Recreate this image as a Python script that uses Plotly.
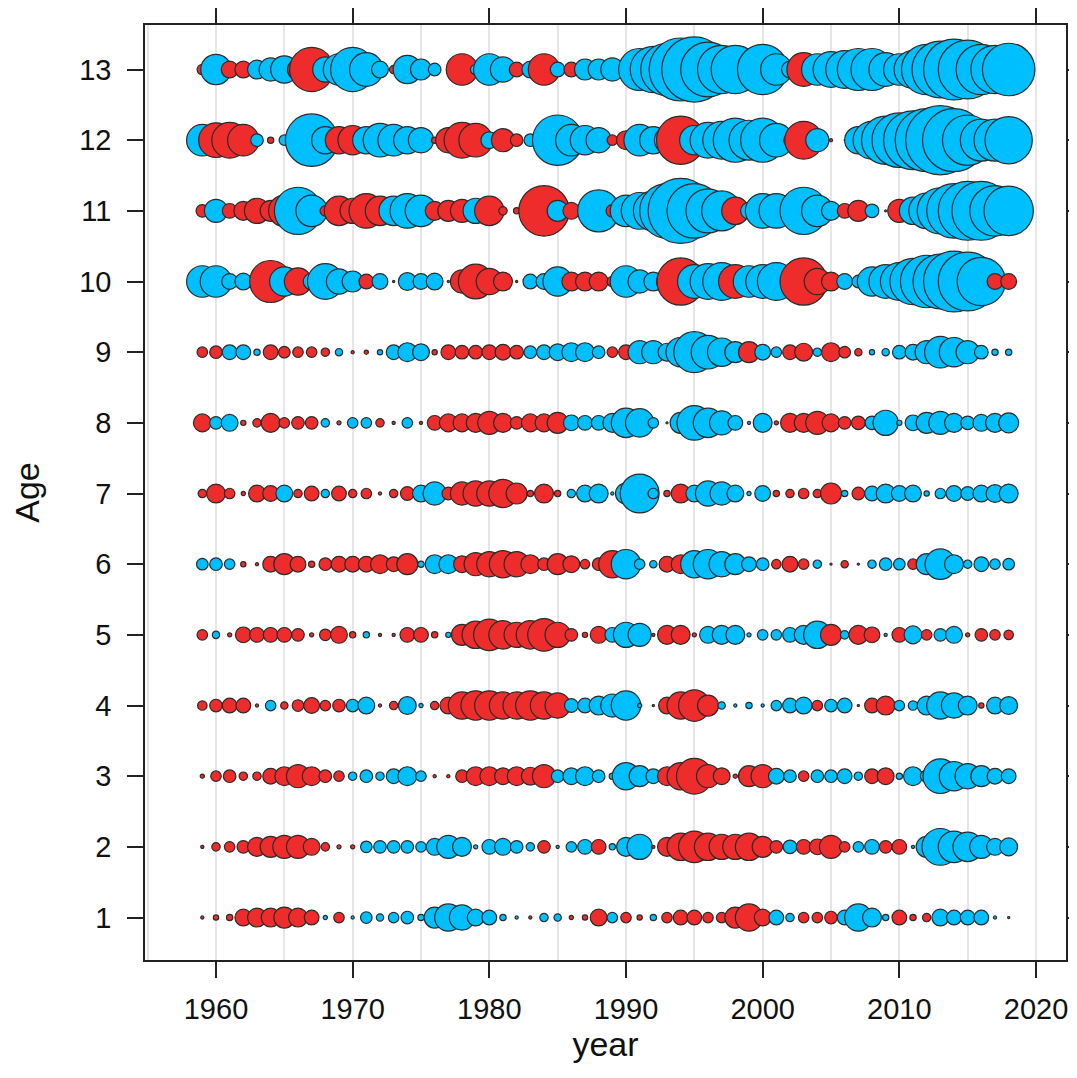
import plotly.graph_objects as go

years = list(range(1959, 2019))
ages = list(range(1, 14))

age1 = [-0.15, -0.25, -0.3, -0.8, -0.9, -0.9, -1.0, -0.9, -0.7, 0.2,
        -0.5, 0.15, 0.55, 0.35, 0.5, 0.6, 0.3, 1.0, 1.3, 1.2,
        0.8, 0.7, 0.3, 0.15, -0.15, 0.4, 0.35, -0.2, -0.25, -0.8,
        0.5, -0.5, -0.25, 0.3, -0.5, -0.7, -0.7, -0.5, -0.5, -1.0,
        -1.3, -0.8, 0.7, 0.4, -0.5, -0.5, -0.6, 0.7, 1.3, 0.9,
        0.3, -0.7, -0.3, -0.4, 0.8, 0.7, 0.7, 0.7, 0.15, 0.1]
age2 = [-0.15, -0.4, -0.5, -0.6, -0.9, -1.0, -1.1, -1.1, -0.8, -0.4,
        -0.2, -0.2, 0.55, 0.6, 0.6, 0.6, 0.5, 0.8, 1.1, 0.9,
        0.2, 0.7, 0.8, 0.6, 0.4, -0.6, 0.15, 0.5, 0.7, -0.7,
        0.3, 0.9, 1.2, -0.15, -0.9, -1.3, -1.5, -1.3, -1.2, -1.2,
        -1.3, -1.0, -0.6, 0.65, -0.7, -0.75, -1.1, -0.5, 0.5, 0.7,
        -0.6, -0.7, 0.15, 1.0, 1.75, 1.5, 1.4, 1.1, 0.8, 0.85]
age3 = [-0.2, -0.5, -0.6, -0.4, -0.4, -0.75, -0.9, -1.1, -0.9, -0.6,
        -0.5, 0.4, 0.6, 0.4, 0.7, 0.9, 0.5, -0.15, -0.15, -0.6,
        -0.9, -0.9, -0.8, -0.9, -0.85, -1.1, 0.6, 0.8, 0.9, 0.6,
        0.3, 1.3, 1.0, 0.7, -0.9, -1.3, -1.7, -1.1, -0.8, -0.2,
        -1.0, -1.1, 0.75, 0.6, -0.5, 0.6, 0.6, 0.7, 0.4, -0.7,
        -0.8, 0.3, 0.9, 0.6, 1.65, 1.4, 1.2, 1.0, 0.75, 0.7]
age4 = [-0.45, -0.6, -0.7, -0.7, -0.15, 0.5, -0.35, -0.55, -0.75, -0.5,
        -0.6, 0.6, 0.8, -0.15, -0.4, 0.85, 0.2, -0.4, -0.8, -1.3,
        -1.4, -1.4, -1.3, -1.3, -1.4, -1.3, -1.2, 0.65, 0.7, 0.9,
        1.1, 1.4, 0.2, -0.1, -0.8, -1.3, -1.5, -1.0, 0.35, 0.15,
        0.3, 0.15, 0.5, 0.7, 0.8, -0.5, 0.6, 0.7, -0.1, -0.7,
        -0.9, 0.5, 0.45, 0.9, 1.3, 1.2, 0.9, -0.25, 0.8, 0.85]
age5 = [-0.5, 0.35, -0.2, -0.75, -0.7, -0.7, -0.7, -0.6, -0.2, -0.55,
        -0.8, -0.3, 0.3, -0.15, -0.15, -0.7, -0.7, -0.3, 0.25, -1.0,
        -1.3, -1.5, -1.35, -1.2, -1.35, -1.55, -1.2, -0.6, -0.25, -0.8,
        0.7, 1.2, 1.1, -0.15, -0.9, -0.9, -0.2, 0.8, 0.9, 0.9,
        0.2, 0.5, 0.5, 0.7, 0.9, 1.3, -1.0, 0.4, -0.9, -0.75,
        0.15, -0.7, 0.85, -0.5, 0.6, 0.8, -0.2, -0.6, -0.5, -0.45]
age6 = [0.55, 0.6, 0.5, -0.25, -0.15, -0.75, -1.0, -0.75, -0.3, -0.6,
        -0.75, -0.75, -0.75, -0.9, -0.7, -1.0, 0.3, 0.9, 0.9, -0.8,
        -1.1, -1.2, -1.3, -1.2, -0.9, -0.6, -1.0, -0.8, -0.45, -0.6,
        -1.3, 1.4, 0.5, 0.35, -0.75, -0.9, 1.3, 1.4, 1.2, 1.0,
        0.7, 0.6, -0.45, -0.75, -0.5, 0.4, -0.1, -0.35, -0.1, 0.4,
        0.6, 0.55, -0.5, 1.0, 1.45, 0.9, 0.4, 0.7, 0.5, 0.55]
age7 = [-0.4, -0.9, -0.5, -0.2, -0.8, -0.75, 0.8, -0.4, -0.7, 0.4,
        -0.7, -0.4, -0.5, -0.15, -0.4, -0.65, 0.8, 1.1, -0.6, -1.1,
        -1.2, -1.2, -1.35, -1.0, -0.3, -0.9, -0.3, 0.4, 0.8, 0.9,
        0.15, 1.0, 1.85, 0.5, -0.3, -0.9, 0.8, 1.2, 1.1, 0.8,
        0.2, 0.75, -0.3, -0.4, -0.5, -0.4, -1.0, 0.3, -0.6, 0.7,
        0.9, 0.75, 0.8, 0.25, 0.5, 0.75, 0.65, 0.8, 0.85, 0.9]
age8 = [-0.85, 0.6, 0.8, -0.25, -0.4, -0.9, -0.5, -0.6, -0.6, 0.4,
        -0.2, 0.5, 0.5, -0.4, -0.15, 0.5, -0.15, -0.7, -0.85, -0.85,
        -0.9, -1.1, -0.9, -0.6, -0.85, -0.85, -1.0, 0.75, 0.7, 0.7,
        0.9, 1.4, 1.35, 0.5, 0.1, 1.0, 1.65, 1.4, 1.15, 0.7,
        0.15, 0.9, -0.2, -0.9, -0.9, -1.1, -0.85, -0.6, -0.65, 0.65,
        1.2, 0.25, 0.75, 1.0, 1.1, 0.9, 0.65, 0.8, 0.9, 0.95]
age9 = [-0.5, -0.6, 0.7, 0.7, 0.3, -0.7, -0.55, -0.5, -0.5, -0.4,
        0.35, -0.15, -0.2, 0.25, 0.7, 0.9, 0.8, -0.25, -0.7, -0.65,
        -0.65, -0.7, -0.75, -0.65, 0.6, 0.7, 0.8, 0.9, 0.9, 0.6,
        -0.5, -0.7, 1.1, 1.1, 0.85, 1.4, 1.95, 1.6, 1.35, 1.0,
        -1.0, 0.75, 0.5, -0.7, -0.85, 0.4, -0.9, -0.55, -0.35, 0.25,
        0.35, 0.65, 0.75, 1.1, 1.5, 1.4, 1.1, 0.65, 0.3, 0.3]
age10 = [1.5, 1.5, 0.75, 0.8, 0.6, -2.0, 1.4, -1.3, 0.8, 1.7,
         1.2, 1.0, -0.7, 0.75, -0.1, 0.85, 0.75, 0.8, 0.1, -1.1,
         -1.65, -1.25, -0.9, -0.1, 0.7, 0.75, 1.4, -0.9, -0.9, -0.9,
         -0.5, 1.5, 1.1, 0.9, 1.0, -2.25, 1.6, 1.7, 1.8, -1.6,
         1.5, 1.6, 1.8, 0.6, -2.25, -1.25, -0.9, 0.75, 0.6, 1.4,
         1.6, 1.8, 2.2, 2.5, 2.6, 2.9, 2.8, 2.3, -0.75, -0.75]
age11 = [-0.6, 1.1, -0.7, -0.9, -1.2, -1.0, -1.5, 2.25, 1.5, -0.5,
         -1.4, -1.2, -1.65, -1.4, 1.4, 1.65, 1.5, -0.9, -1.0, -1.1,
         1.2, -1.4, -0.4, -0.3, -0.3, -2.4, 1.0, -0.8, -0.6, 2.0,
         -0.6, 1.5, 1.75, 1.9, 2.6, 3.1, 2.6, 2.1, 1.9, -1.3,
         0.8, 1.65, 1.65, 0.9, 2.25, 1.5, 0.9, -0.7, -1.0, 0.65,
         0.1, -1.1, 1.3, 1.7, 2.2, 2.6, 2.8, 2.8, 2.4, 2.35]
age12 = [1.5, -1.65, -1.7, -1.5, 0.6, -0.3, 0.5, 1.0, 2.5, 1.3,
         -1.3, -1.4, 1.3, 1.6, 1.5, 1.3, 1.2, -0.3, -1.2, -1.7,
         -1.6, 0.8, -1.1, -0.6, 0.6, 1.0, 2.4, 1.5, 1.4, 1.2,
         -0.5, -0.9, 1.5, 1.3, 1.2, -2.3, 1.4, 1.7, 1.8, 2.1,
         1.9, 2.1, 1.6, -0.6, -1.8, 1.1, -0.15, 0.05, 1.3, 1.8,
         2.3, 2.6, 2.8, 3.0, 3.3, 3.0, 2.4, 2.0, 2.0, 2.25]
age13 = [-0.5, 1.45, -0.8, -0.8, 0.9, 1.1, 1.3, -1.0, -2.1, 1.2,
         1.5, 2.1, 1.6, 0.8, -0.4, 1.35, 1.0, 0.6, 0.05, -1.5,
         0.5, 1.5, 1.2, -0.7, 0.8, -1.5, 0.7, -0.7, 1.0, 1.0,
         1.1, -0.6, 2.0, 2.2, 2.5, 3.0, 3.1, 2.6, 2.3, 2.3,
         -0.5, 2.4, 1.5, 0.8, -1.6, 1.5, 1.7, 1.8, 2.0, 2.0,
         1.6, 1.5, 1.8, 2.4, 2.7, 2.9, 2.8, 2.4, 2.3, 2.5]

residuals = [age1, age2, age3, age4, age5, age6, age7, age8, age9,
             age10, age11, age12, age13]

POS_COLOR = "#00BFFF"
NEG_COLOR = "#EE2C2C"
PX_PER_UNIT = 21

xs, ys, sizes, colors = [], [], [], []
for age, row in zip(ages, residuals):
    for yr, v in zip(years, row):
        xs.append(yr)
        ys.append(age)
        sizes.append(abs(v) * PX_PER_UNIT)
        colors.append(POS_COLOR if v > 0 else NEG_COLOR)

fig = go.Figure()
fig.add_trace(go.Scatter(
    x=xs, y=ys, mode="markers",
    marker=dict(size=sizes, sizemode="diameter", color=colors,
                line=dict(color="#2b2b2b", width=1.2), opacity=1),
    hoverinfo="skip", showlegend=False,
))

font_family = "Liberation Sans, Arial, sans-serif"
fig.update_layout(
    width=1061, height=1062,
    margin=dict(l=137, r=3, t=17, b=110),
    paper_bgcolor="white", plot_bgcolor="white",
    font=dict(family=font_family, color="#111111"),
    showlegend=False,
)
fig.update_xaxes(
    automargin=False,
    range=[1954.806, 2022.195],
    tickvals=[1960, 1970, 1980, 1990, 2000, 2010, 2020],
    ticks="outside", ticklen=16, tickwidth=1.5, tickcolor="#222222",
    tickfont=dict(size=29), ticklabelstandoff=6,
    showline=True, linecolor="#222222", linewidth=1.5, mirror="ticks",
    showgrid=True, gridcolor="#e6e6e6", gridwidth=2,
    minor=dict(dtick=5, tick0=1960, showgrid=True, gridcolor="#e6e6e6", gridwidth=2, ticks=""),
    zeroline=False,
    title=dict(text="year", font=dict(size=34), standoff=0),
)
fig.update_yaxes(
    automargin=False,
    range=[0.399, 13.63],
    tickvals=ages,
    ticks="outside", ticklen=16, tickwidth=1.5, tickcolor="#222222",
    tickfont=dict(size=29), ticklabelstandoff=10,
    showline=True, linecolor="#222222", linewidth=1.5, mirror="ticks",
    showgrid=False, zeroline=False,
    title=dict(text="Age", font=dict(size=34), standoff=36),
)

fig.write_html("out.html")
